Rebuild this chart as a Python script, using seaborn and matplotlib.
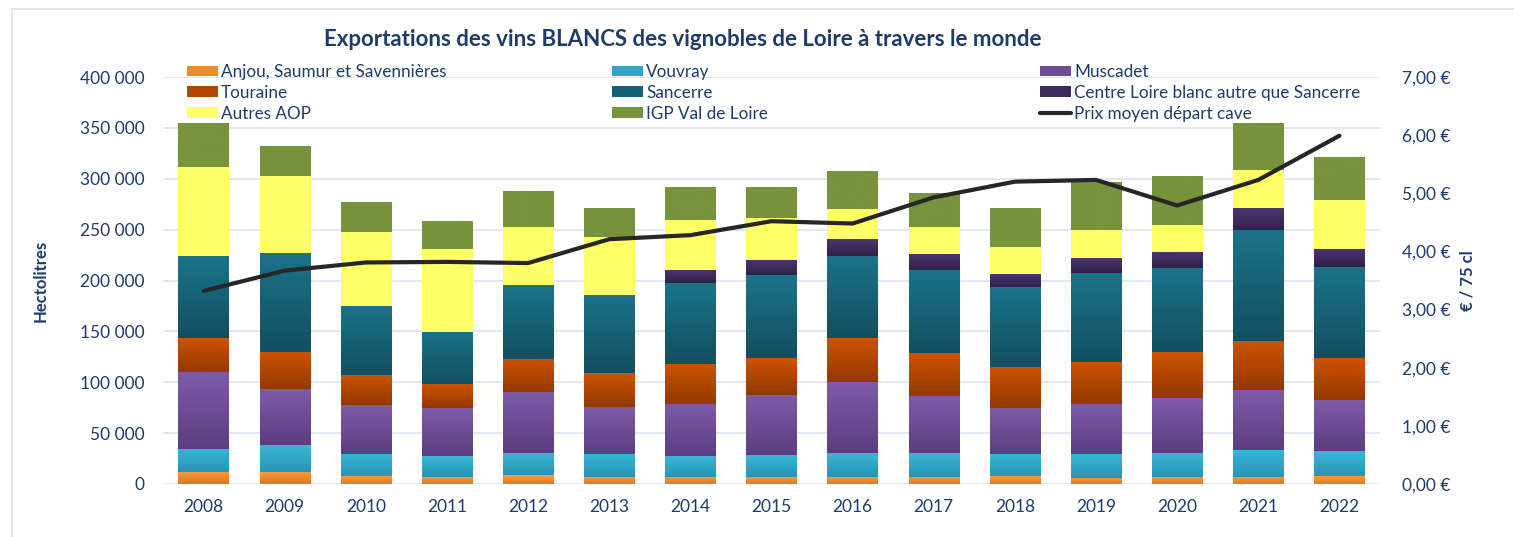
import numpy as np
import matplotlib
matplotlib.use("Agg")
import matplotlib.pyplot as plt
import seaborn as sns
from matplotlib.ticker import FuncFormatter, MultipleLocator
from matplotlib.colors import LinearSegmentedColormap, to_rgb
from matplotlib.patches import Rectangle, Patch
from matplotlib.lines import Line2D

# ---------------- data ----------------
years = [str(y) for y in range(2008, 2023)]
anjou    = [11800, 11800, 7800, 6900, 8800, 6900, 6900, 6900, 6900, 6900, 7800, 5900, 6900, 6900, 7800]
vouvray  = [22900, 26500, 21600, 20600, 21600, 22500, 20600, 21600, 23500, 23500, 21600, 23500, 23500, 26500, 24500]
muscadet = [75200, 54900, 48000, 47100, 59800, 46100, 51000, 58800, 69600, 55900, 45100, 49000, 53900, 58800, 50000]
touraine = [33300, 36300, 29400, 23500, 32400, 33300, 39200, 36300, 43100, 42200, 40200, 41200, 45100, 48000, 41200]
sancerre = [80400, 98000, 68600, 51000, 72500, 76500, 79400, 81400, 81400, 81400, 79400, 88200, 82400, 109800, 90200]
centre   = [0, 0, 0, 0, 0, 0, 13700, 14700, 16700, 15700, 12700, 14700, 16700, 21600, 17600]
autres   = [88200, 75500, 72500, 81400, 57800, 57800, 49000, 42200, 29400, 26500, 26500, 27500, 26500, 37300, 48000]
igp      = [43100, 29400, 29400, 27500, 35300, 28400, 32400, 30400, 37300, 34300, 38200, 47100, 48000, 46100, 42200]
prix     = [3.32, 3.67, 3.81, 3.82, 3.80, 4.21, 4.28, 4.52, 4.48, 4.93, 5.20, 5.23, 4.79, 5.23, 5.99]

labels = ["Anjou, Saumur et Savennières", "Vouvray", "Muscadet", "Touraine", "Sancerre",
          "Centre Loire blanc autre que Sancerre", "Autres AOP", "IGP Val de Loire"]
line_label = "Prix moyen départ cave"
title = "Exportations des vins BLANCS des vignobles de Loire à travers le monde"

# ---------------- styles ----------------
tops    = ["#F99B3B", "#38B6DA", "#7E5BA8", "#CB5300", "#1B7389", "#4A3670", "#FFFF66", "#77933C"]
bottoms_c = ["#E0781E", "#2A94B2", "#5B3D80", "#953800", "#124F60", "#2E2148", "#FFFF66", "#77933C"]
mids = [tuple((np.array(to_rgb(a)) + np.array(to_rgb(b))) / 2) for a, b in zip(tops, bottoms_c)]
txt_col = "#1F3B6B"
grid_col = "#D9E1F2"

sns.set_theme(style="white")
plt.rcParams["font.family"] = ["Lato", "DejaVu Sans"]

fig = plt.figure(figsize=(15.14, 5.37), dpi=100)
ax = fig.add_axes([163 / 1514, 1 - 484 / 537, (1380 - 163) / 1514, (484 - 77) / 537])

series = [anjou, vouvray, muscadet, touraine, sancerre, centre, autres, igp]
vals = np.array(series, dtype=float)
cum = np.cumsum(vals, axis=0)
base = cum - vals

patch_groups = {}
for i in reversed(range(len(series))):
    n0 = len(ax.patches)
    sns.barplot(x=years, y=cum[i], color=mids[i], saturation=1, width=0.62,
                errorbar=None, linewidth=0, ax=ax, zorder=2)
    patch_groups[i] = ax.patches[n0:]

grad = np.linspace(0, 1, 64).reshape(-1, 1)
for i, plist in patch_groups.items():
    cmap = LinearSegmentedColormap.from_list("g%d" % i, [bottoms_c[i], tops[i]])
    for j, p in enumerate(plist):
        p.set_y(base[i][j])
        p.set_height(vals[i][j])
        if vals[i][j] <= 0:
            continue
        x0 = p.get_x(); x1 = x0 + p.get_width()
        im = ax.imshow(grad, extent=[x0, x1, base[i][j], cum[i][j]], origin="lower",
                       aspect="auto", cmap=cmap, zorder=2.1, interpolation="bilinear")
        im.set_clip_path(p)

ax.set_xlim(-0.5, len(years) - 0.5)
ax.set_ylim(0, 400000)
ax.yaxis.set_major_locator(MultipleLocator(50000))
ax.yaxis.set_major_formatter(FuncFormatter(lambda v, p: f"{int(v):,}".replace(",", " ")))
ax.grid(axis="y", color=grid_col, lw=1.1)
ax.grid(axis="x", visible=False)
ax.set_axisbelow(True)
for s in ax.spines.values():
    s.set_visible(False)
ax.tick_params(axis="y", length=0, pad=13, labelsize=12.5, labelcolor=txt_col)
ax.tick_params(axis="x", length=0, pad=11, labelsize=12.5, labelcolor=txt_col)
ax.set_xlabel("")
ax.set_ylabel("Hectolitres", fontsize=12, fontweight="bold", color=txt_col)
ax.yaxis.set_label_coords(-0.0937, 0.5)

ax2 = ax.twinx()
sns.lineplot(x=years, y=prix, ax=ax2, color="#262626", linewidth=3.0, errorbar=None, sort=False)
ax2.set_ylim(0, 7)
ax2.yaxis.set_major_locator(MultipleLocator(1))
ax2.yaxis.set_major_formatter(FuncFormatter(lambda v, p: f"{v:.2f} €".replace(".", ",")))
for s in ax2.spines.values():
    s.set_visible(False)
ax2.grid(False)
ax2.tick_params(axis="y", length=0, pad=16, labelsize=12.5, labelcolor=txt_col)
ax2.set_ylabel("€ / 75 cl", fontsize=12, fontweight="bold", color=txt_col)
ax2.yaxis.set_label_coords(1.0657, 0.5)
ax.set_xlim(-0.5, len(years) - 0.5)

# legends (three columns)
def ph(i):
    return Patch(facecolor=mids[i], edgecolor="none")

cols = [
    ([ph(0), ph(3), ph(6)], [labels[0], labels[3], labels[6]], 187),
    ([ph(1), ph(4), ph(7)], [labels[1], labels[4], labels[7]], 612),
    ([ph(2), ph(5), Line2D([], [], color="#262626", lw=3.0)], [labels[2], labels[5], line_label], 1040),
]
legs = []
for handles, labs, xpx in cols:
    lg = ax2.legend(handles, labs, loc="upper left", bbox_to_anchor=(xpx / 1514, 1 - 64 / 537),
                    bbox_transform=fig.transFigure, frameon=False, fontsize=12.3,
                    borderpad=0, borderaxespad=0, handlelength=1.8, handleheight=0.6,
                    handletextpad=0.2, labelspacing=0.28, labelcolor=txt_col)
    legs.append(lg)
for lg in legs[:-1]:
    ax2.add_artist(lg)

fig.text(683 / 1514, 1 - 39 / 537, title, ha="center", va="center", fontsize=16,
         fontweight="bold", color=txt_col)

fig.patches.append(Rectangle((12 / 1514, -0.1), 1.2, (537 - 9) / 537 + 0.1,
                             transform=fig.transFigure, fill=False, edgecolor="#DCE3EE", lw=1.2))

fig.savefig("out.png", dpi=100)
